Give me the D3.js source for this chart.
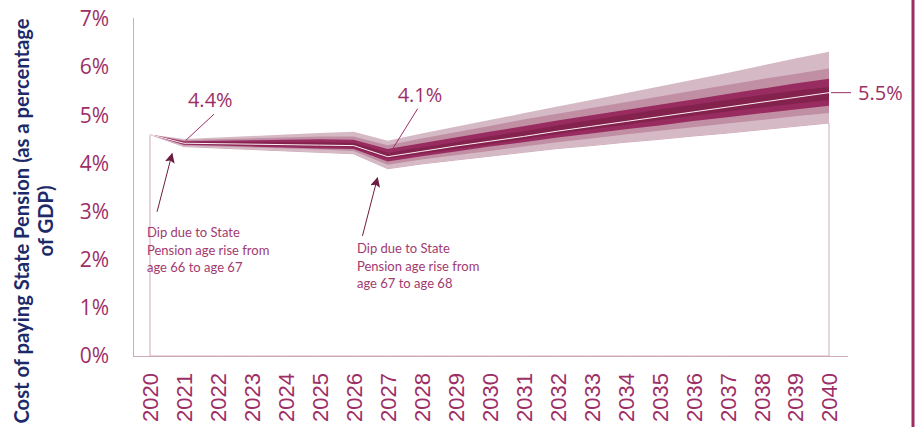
<!DOCTYPE html>
<html>
<head>
<meta charset="utf-8">
<script src="https://cdn.jsdelivr.net/npm/d3@7"></script>
<style>
  html, body { margin: 0; padding: 0; background: #fff; }
  svg { display: block; }
</style>
</head>
<body>
<svg id="chart" width="917" height="427"></svg>
<script>
// projection years
const years = [2020, 2021, 2022, 2023, 2024, 2025, 2026, 2027, 2028, 2029, 2030,
  2031, 2032, 2033, 2034, 2035, 2036, 2037, 2038, 2039, 2040];

// central projection, % of GDP
const central = [4.60, 4.42, 4.41, 4.40, 4.39, 4.38, 4.37, 4.14, 4.25, 4.36, 4.46,
  4.56, 4.67, 4.77, 4.87, 4.97, 5.07, 5.17, 5.27, 5.37, 5.47];

// fan bands, outermost to innermost
const outerLow = [4.60, 4.35, 4.32, 4.29, 4.26, 4.23, 4.20, 3.89, 3.99, 4.07, 4.15,
  4.23, 4.31, 4.37, 4.44, 4.50, 4.57, 4.63, 4.70, 4.77, 4.84];
const outerHigh = [4.60, 4.51, 4.54, 4.57, 4.60, 4.63, 4.66, 4.47, 4.62, 4.76, 4.90,
  5.04, 5.18, 5.32, 5.46, 5.60, 5.74, 5.88, 6.03, 6.18, 6.32];
const midLow = [4.60, 4.37, 4.35, 4.33, 4.31, 4.29, 4.26, 3.97, 4.08, 4.17, 4.26,
  4.35, 4.44, 4.52, 4.60, 4.68, 4.75, 4.83, 4.90, 4.98, 5.05];
const midHigh = [4.60, 4.48, 4.50, 4.52, 4.54, 4.56, 4.56, 4.38, 4.52, 4.65, 4.78,
  4.91, 5.03, 5.15, 5.27, 5.39, 5.51, 5.63, 5.75, 5.86, 5.97];
const innerLow = [4.60, 4.39, 4.37, 4.35, 4.33, 4.31, 4.30, 4.04, 4.15, 4.25, 4.35,
  4.44, 4.54, 4.62, 4.71, 4.79, 4.88, 4.96, 5.04, 5.12, 5.20];
const innerHigh = [4.60, 4.46, 4.47, 4.48, 4.49, 4.50, 4.49, 4.30, 4.42, 4.54, 4.66,
  4.77, 4.89, 5.00, 5.11, 5.22, 5.33, 5.44, 5.55, 5.66, 5.76];
const coreLow = [4.60, 4.41, 4.39, 4.38, 4.37, 4.35, 4.33, 4.10, 4.20, 4.30, 4.40,
  4.50, 4.61, 4.71, 4.80, 4.90, 4.99, 5.08, 5.16, 5.24, 5.32];
const coreHigh = [4.60, 4.44, 4.44, 4.44, 4.44, 4.44, 4.43, 4.22, 4.33, 4.44, 4.56,
  4.67, 4.79, 4.90, 5.01, 5.12, 5.22, 5.32, 5.42, 5.51, 5.59];

const yTicks = [0, 1, 2, 3, 4, 5, 6, 7];

const magenta = "#9c2f66";
const frameColor = "#cfaabb";

const svg = d3.select("#chart");

const x = d3.scaleLinear().domain([2020, 2040]).range([150, 829]);
const y = d3.scaleLinear().domain([0, 7]).range([356, 19]);

const rows = years.map((yr, i) => ({
  year: yr, mid: central[i],
  oLo: outerLow[i], oHi: outerHigh[i],
  mLo: midLow[i], mHi: midHigh[i],
  iLo: innerLow[i], iHi: innerHigh[i],
  cLo: coreLow[i], cHi: coreHigh[i]
}));

// frame: left edge and baseline
svg.append("line")
  .attr("x1", 133.5).attr("x2", 133.5)
  .attr("y1", y(7) - 1).attr("y2", y(0))
  .attr("stroke", frameColor).attr("stroke-width", 1);

// white base area under the fan (gives the drop lines at each end)
svg.append("path")
  .datum(rows)
  .attr("d", d3.area().x(d => x(d.year)).y0(y(0)).y1(d => y(d.oLo)))
  .attr("fill", "#fff")
  .attr("stroke", frameColor)
  .attr("stroke-width", 1);

svg.append("line")
  .attr("x1", 133).attr("x2", 848)
  .attr("y1", y(0) + 0.5).attr("y2", y(0) + 0.5)
  .attr("stroke", frameColor).attr("stroke-width", 1.2);

const bands = [
  { lo: "oLo", hi: "oHi", color: "#d5bac5" },
  { lo: "mLo", hi: "mHi", color: "#c08fa3" },
  { lo: "iLo", hi: "iHi", color: "#982b5f" },
  { lo: "cLo", hi: "cHi", color: "#84224e" }
];

svg.append("g")
  .selectAll("path")
  .data(bands)
  .join("path")
  .attr("d", b => d3.area()
    .x(d => x(d.year))
    .y0(d => y(d[b.lo]))
    .y1(d => y(d[b.hi]))(rows))
  .attr("fill", b => b.color);

svg.append("path")
  .datum(rows)
  .attr("d", d3.line().x(d => x(d.year)).y(d => y(d.mid)))
  .attr("fill", "none")
  .attr("stroke", "#fbeff4")
  .attr("stroke-width", 1);

// y axis
const yAxis = svg.append("g")
  .attr("transform", "translate(133,0)")
  .call(d3.axisLeft(y).tickValues(yTicks).tickSize(0).tickPadding(24).tickFormat(d => d + "%"));
yAxis.select(".domain").remove();
yAxis.selectAll("text")
  .attr("font-family", "'Open Sans', sans-serif")
  .attr("font-size", 21)
  .attr("fill", magenta);

// x axis, vertical year labels
const xAxis = svg.append("g")
  .attr("transform", `translate(0,${y(0)})`)
  .call(d3.axisBottom(x).tickValues(years).tickSize(0).tickFormat(d3.format("d")));
xAxis.select(".domain").remove();
xAxis.selectAll("text")
  .attr("font-family", "'Liberation Sans', Arial, sans-serif")
  .attr("font-size", 22)
  .attr("fill", magenta)
  .attr("text-anchor", "end")
  .attr("transform", "rotate(-90)")
  .attr("x", -17)
  .attr("y", 0)
  .attr("dy", "0.36em");

// y axis title
const title = svg.append("text")
  .attr("transform", "translate(0,221) rotate(-90)")
  .attr("text-anchor", "middle")
  .attr("font-family", "Lato, sans-serif")
  .attr("font-weight", "bold")
  .attr("font-size", 20.2)
  .attr("fill", "#1d2a6a");
title.append("tspan").attr("x", 0).attr("y", 29).text("Cost of paying State Pension (as a percentage");
title.append("tspan").attr("x", 0).attr("y", 53).text("of GDP)");

// value callouts
const callouts = [
  { year: 2021, value: central[1], text: "4.4%", dx: 28, dy: -26, tx: 0, ty: -7 },
  { year: 2027, value: central[7], text: "4.1%", dx: 28, dy: -45, tx: 6, ty: -7 }
];
callouts.forEach(c => {
  const px = x(c.year) + 2, py = y(c.value) - 3;
  svg.append("line")
    .attr("x1", px).attr("y1", py)
    .attr("x2", px + c.dx).attr("y2", py + c.dy)
    .attr("stroke", magenta).attr("stroke-width", 1);
  svg.append("text")
    .attr("x", px + c.dx - 26 + c.tx)
    .attr("y", py + c.dy + c.ty)
    .attr("font-family", "'Open Sans', sans-serif")
    .attr("font-size", 20)
    .attr("fill", magenta)
    .text(c.text);
});

const last = rows[rows.length - 1];
svg.append("line")
  .attr("x1", x(last.year) + 2).attr("x2", x(last.year) + 22)
  .attr("y1", y(last.mid)).attr("y2", y(last.mid))
  .attr("stroke", magenta).attr("stroke-width", 1);
svg.append("text")
  .attr("x", x(last.year) + 29)
  .attr("y", y(last.mid) + 7)
  .attr("font-family", "'Open Sans', sans-serif")
  .attr("font-size", 20)
  .attr("fill", magenta)
  .text("5.5%");

// arrows pointing at the two dips
svg.append("defs").append("marker")
  .attr("id", "head")
  .attr("viewBox", "0 0 10 10")
  .attr("refX", 9).attr("refY", 5)
  .attr("markerWidth", 10).attr("markerHeight", 10)
  .attr("markerUnits", "userSpaceOnUse")
  .attr("orient", "auto")
  .append("path")
  .attr("d", "M0,0 L10,5 L0,10 L2,5 Z")
  .attr("fill", "#6d1c43");

const notes = [
  { year: 2020.65, value: 4.2, lines: ["Dip due to State", "Pension age rise from", "age 66 to age 67"], tx: 147, ty: 237 },
  { year: 2026.7, value: 3.7, lines: ["Dip due to State", "Pension age rise from", "age 67 to age 68"], tx: 357, ty: 253 }
];
notes.forEach(n => {
  const tipX = x(n.year), tipY = y(n.value);
  svg.append("line")
    .attr("x1", tipX - 15).attr("y1", tipY + 58)
    .attr("x2", tipX).attr("y2", tipY)
    .attr("stroke", "#6d1c43").attr("stroke-width", 1)
    .attr("marker-end", "url(#head)");
  const t = svg.append("text")
    .attr("font-family", "Lato, sans-serif")
    .attr("font-size", 13)
    .attr("fill", "#a13a70");
  n.lines.forEach((l, i) => {
    t.append("tspan").attr("x", n.tx).attr("y", n.ty + i * 17.5).text(l);
  });
});

// accent bar on the right edge
svg.append("rect")
  .attr("x", 911.5).attr("y", 0)
  .attr("width", 3).attr("height", 427)
  .attr("fill", "#9b2d62");
</script>
</body>
</html>
